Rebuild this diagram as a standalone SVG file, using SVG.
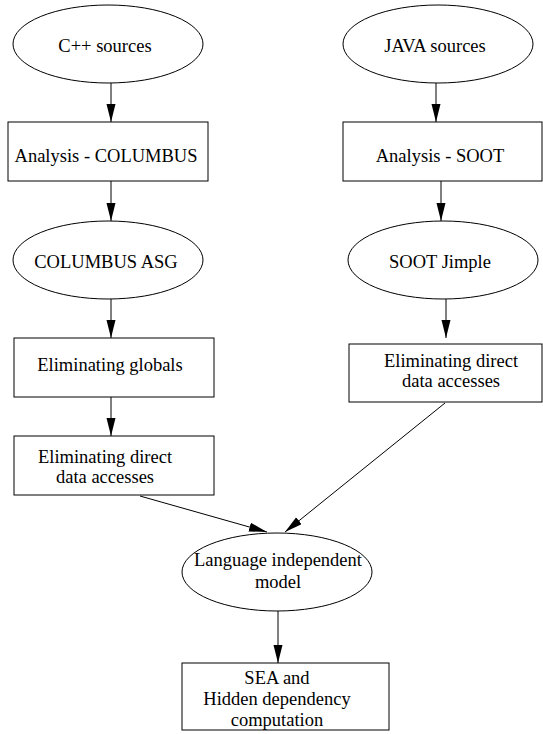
<svg xmlns="http://www.w3.org/2000/svg" width="543" height="734" viewBox="0 0 543 734">
<defs>
<style>
.n{fill:#fff;stroke:#000;stroke-width:1}
.t{font-family:"Liberation Serif","Times New Roman",serif;font-size:18.5px;fill:#000;text-anchor:middle}
.e{stroke:#000;stroke-width:1;fill:none;marker-end:url(#ah)}
</style>
<marker id="ah" markerUnits="userSpaceOnUse" markerWidth="19" markerHeight="10" refX="18" refY="4.5" orient="auto">
<path d="M0,0 L18,4.5 L0,9 z" fill="#000"/>
</marker>
</defs>
<rect width="543" height="734" fill="#fff"/>
<g id="edges">
<line class="e" x1="111" y1="83" x2="111" y2="122"/>
<line class="e" x1="111" y1="181" x2="111" y2="221"/>
<line class="e" x1="111" y1="299" x2="111" y2="338"/>
<line class="e" x1="111" y1="397" x2="111" y2="436"/>
<line class="e" x1="436" y1="83" x2="436" y2="122"/>
<line class="e" x1="441" y1="181" x2="441" y2="221"/>
<line class="e" x1="446" y1="299" x2="446" y2="338"/>
<line class="e" x1="140" y1="496" x2="267" y2="532"/>
<line class="e" x1="445" y1="403" x2="285" y2="532"/>
<line class="e" x1="278" y1="611" x2="278" y2="663"/>
</g>
<g id="cpp_sources">
<ellipse class="n" cx="108" cy="44" rx="95" ry="39"/>
<text class="t" x="105" y="52">C++ sources</text>
</g>
<g id="analysis_columbus">
<rect class="n" x="8" y="122" width="200" height="59"/>
<text class="t" x="106" y="162">Analysis - COLUMBUS</text>
</g>
<g id="columbus_asg">
<ellipse class="n" cx="108" cy="260" rx="95" ry="39"/>
<text class="t" x="106" y="268">COLUMBUS ASG</text>
</g>
<g id="eliminating_globals">
<rect class="n" x="14" y="338" width="200" height="59"/>
<text class="t" x="110" y="371">Eliminating globals</text>
</g>
<g id="elim_direct_left">
<rect class="n" x="14" y="436" width="200" height="59"/>
<text class="t" x="105" y="463">Eliminating direct</text>
<text class="t" x="105" y="483">data accesses</text>
</g>
<g id="java_sources">
<ellipse class="n" cx="438" cy="44" rx="95" ry="39"/>
<text class="t" x="435" y="52">JAVA sources</text>
</g>
<g id="analysis_soot">
<rect class="n" x="343" y="122" width="199" height="59"/>
<text class="t" x="440" y="162">Analysis - SOOT</text>
</g>
<g id="soot_jimple">
<ellipse class="n" cx="443" cy="260" rx="95" ry="39"/>
<text class="t" x="440" y="268">SOOT Jimple</text>
</g>
<g id="elim_direct_right">
<rect class="n" x="349" y="344" width="193" height="58"/>
<text class="t" x="451" y="367">Eliminating direct</text>
<text class="t" x="451" y="387">data accesses</text>
</g>
<g id="language_independent">
<ellipse class="n" cx="277" cy="572" rx="95" ry="39"/>
<text class="t" x="278" y="566">Language independent</text>
<text class="t" x="278" y="588">model</text>
</g>
<g id="sea_hidden">
<rect class="n" x="182" y="663" width="207" height="67"/>
<text class="t" x="277" y="684">SEA and</text>
<text class="t" x="277" y="705">Hidden dependency</text>
<text class="t" x="277" y="726">computation</text>
</g>
</svg>
